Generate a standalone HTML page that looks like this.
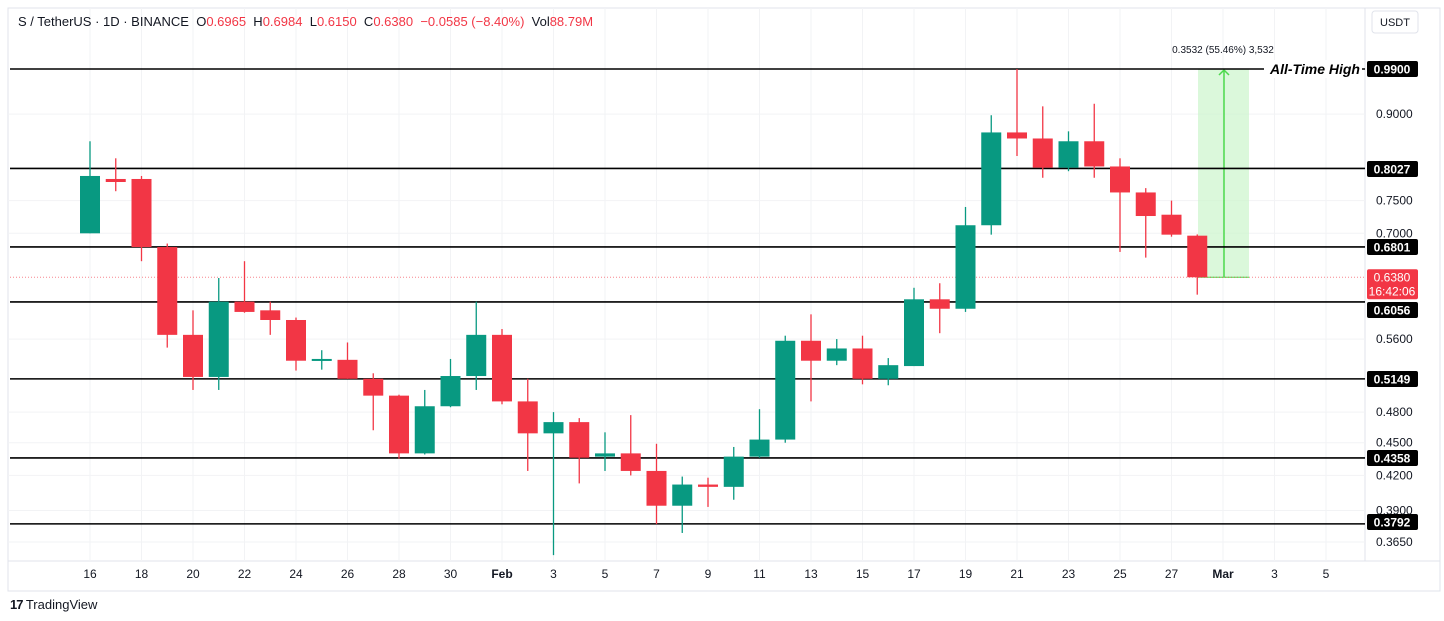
<!DOCTYPE html>
<html><head><meta charset="utf-8">
<style>
body{margin:0;background:#fff;font-family:"Liberation Sans",sans-serif;}
#wrap{position:relative;width:1444px;height:621px;overflow:hidden;}
svg text{font-family:"Liberation Sans",sans-serif;}
</style></head><body>
<div id="wrap">
<svg id="chart" width="1444" height="621"></svg>
</div>
<script>
const dayLabels=["16","18","20","22","24","26","28","30","Feb","3","5","7","9","11","13","15","17","19","21","23","25","27","Mar","3","5"];
const opens =[0.70,0.785,0.785,0.68,0.565,0.517,0.606,0.595,0.583,0.536,0.536,0.515,0.497,0.44,0.486,0.518,0.565,0.491,0.459,0.47,0.437,0.44,0.424,0.394,0.412,0.41,0.437,0.453,0.558,0.535,0.549,0.515,0.529,0.609,0.597,0.712,0.866,0.855,0.804,0.85,0.806,0.763,0.728,0.6965];
const highs =[0.85,0.82,0.79,0.685,0.595,0.637,0.66,0.606,0.586,0.547,0.556,0.521,0.498,0.503,0.537,0.606,0.572,0.515,0.48,0.474,0.46,0.477,0.449,0.419,0.418,0.446,0.483,0.564,0.59,0.56,0.564,0.538,0.624,0.63,0.74,0.898,0.99,0.915,0.868,0.92,0.82,0.77,0.75,0.6984];
const lows  =[0.70,0.765,0.66,0.55,0.503,0.503,0.592,0.565,0.524,0.525,0.515,0.462,0.435,0.439,0.485,0.503,0.488,0.424,0.355,0.413,0.424,0.42,0.379,0.372,0.393,0.399,0.436,0.45,0.491,0.53,0.509,0.508,0.529,0.567,0.593,0.698,0.824,0.787,0.798,0.787,0.673,0.665,0.695,0.615];
const closes=[0.79,0.78,0.68,0.565,0.517,0.606,0.593,0.583,0.535,0.537,0.515,0.497,0.44,0.486,0.518,0.565,0.491,0.459,0.47,0.436,0.44,0.424,0.394,0.412,0.41,0.437,0.453,0.558,0.535,0.549,0.515,0.53,0.609,0.597,0.712,0.866,0.855,0.804,0.85,0.806,0.763,0.726,0.698,0.638];
const levels=[0.99,0.8027,0.6801,0.6056,0.5149,0.4358,0.3792];
const levelLabelY=[69,169,247,310,379,458,522];
const tickVals=[0.90,0.75,0.70,0.56,0.48,0.45,0.42,0.39,0.365];
const lastPrice=0.638;

const svg=document.getElementById('chart');
const NS='http://www.w3.org/2000/svg';
function y(p){return 69+474*(Math.log(0.99)-Math.log(p));}
function x(i){return 90+25.75*i;}
function mk(tag,attrs,parent){const e=document.createElementNS(NS,tag);for(const k in attrs)e.setAttribute(k,attrs[k]);(parent||svg).appendChild(e);return e;}

let fr=mk('rect',{x:8,y:8,width:1432,height:583,fill:'none',stroke:'#e0e3eb'});


let ax=mk('line',{x1:1365,y1:8,x2:1365,y2:561,stroke:'#e0e3eb'});


let bx=mk('line',{x1:8,y1:561,x2:1440,y2:561,stroke:'#e0e3eb'});



dayLabels.forEach((l,k)=>{
  const xx=x(k*2);
  const g=mk('line',{x1:xx,y1:8,x2:xx,y2:561,stroke:'#f2f3f5'});
  
  
  const t=mk('text',{x:xx,y:578,'text-anchor':'middle','font-size':12,fill:'#131722','font-weight':(l==='Feb'||l==='Mar')?'bold':'normal'});
  t.textContent=l;
  
  
});
tickVals.forEach(v=>{
  const g=mk('line',{x1:8,y1:y(v),x2:1365,y2:y(v),stroke:'#f2f3f5'});
  
  
  const t=mk('text',{x:1376,y:y(v)+4,'font-size':12,fill:'#131722'});
  t.textContent=v.toFixed(4);
  
  
});

const mTop=y(0.99),mBot=y(lastPrice);
let mb=mk('rect',{x:1198,y:mTop,width:51,height:mBot-mTop,fill:'#ccf5cc',opacity:0.7});


let ml=mk('line',{x1:1224,y1:mBot,x2:1224,y2:mTop+1,stroke:'#4cd94c','stroke-width':1.5});


let mh=mk('polyline',{points:`1219,${mTop+6} 1224,${mTop+1} 1229,${mTop+6}`,fill:'none',stroke:'#4cd94c','stroke-width':1.5});


let mbl=mk('line',{x1:1198,y1:mBot,x2:1249,y2:mBot,stroke:'#4cd94c'});


let mt=mk('text',{x:1223,y:53,'text-anchor':'middle','font-size':10,fill:'#131722'});
mt.textContent='0.3532 (55.46%) 3,532';



levels.forEach((v,i)=>{
  const l=mk('line',{x1:10,y1:y(v),x2:1365,y2:y(v),stroke:'#000','stroke-width':1.6});
  
  
});
let cp=mk('line',{x1:10,y1:y(lastPrice),x2:1365,y2:y(lastPrice),stroke:'#f23645','stroke-width':1,'stroke-dasharray':'1 2',opacity:0.6});



opens.forEach((o,i)=>{
  const c=closes[i],up=c>=o,col=up?'#089981':'#f23645';
  const cx=x(i);
  const w=mk('line',{x1:cx,y1:y(highs[i]),x2:cx,y2:y(lows[i]),stroke:col,'stroke-width':1.3});
  
  
  const t=Math.min(y(o),y(c)),h=Math.max(2,Math.abs(y(o)-y(c)));
  const b=mk('rect',{x:cx-10,y:t,width:20,height:h,fill:col});
  
  
});

let ab=mk('rect',{x:1264,y:60,width:98,height:18,fill:'#fff'});


let at=mk('text',{x:1270,y:74,'font-size':14,'font-weight':'bold','font-style':'italic',fill:'#000'});
at.textContent='All-Time High';



levels.forEach((v,i)=>{
  const yy=levelLabelY[i];
  const r=mk('rect',{x:1367,y:yy-8,width:51,height:16,rx:2,fill:'#000'});
  
  
  const t=mk('text',{x:1392,y:yy+4.5,'text-anchor':'middle','font-size':12,'font-weight':'bold',fill:'#fff'});
  t.textContent=v.toFixed(4);
  
  
});
let cr=mk('rect',{x:1367,y:y(lastPrice)-8,width:51,height:30,rx:2,fill:'#f23645'});


let ct=mk('text',{x:1392,y:y(lastPrice)+4,'text-anchor':'middle','font-size':12,fill:'#fff'});
ct.textContent=lastPrice.toFixed(4);


let cd=mk('text',{x:1392,y:y(lastPrice)+18,'text-anchor':'middle','font-size':12,fill:'#fff'});
cd.textContent='16:42:06';



let ub=mk('rect',{x:1372,y:11,width:46,height:22,rx:3,fill:'#fff',stroke:'#e0e3eb'});


let ut=mk('text',{x:1395,y:26,'text-anchor':'middle','font-size':11,fill:'#131722'});
ut.textContent='USDT';


</script>
<div style="position:absolute;left:18px;top:14px;font-size:13px;color:#131722;white-space:nowrap;">S / TetherUS · 1D · BINANCE&nbsp;&nbsp;O<span style="color:#f23645">0.6965</span>&nbsp;&nbsp;H<span style="color:#f23645">0.6984</span>&nbsp;&nbsp;L<span style="color:#f23645">0.6150</span>&nbsp;&nbsp;C<span style="color:#f23645">0.6380</span>&nbsp;&nbsp;<span style="color:#f23645">−0.0585 (−8.40%)</span>&nbsp;&nbsp;Vol<span style="color:#f23645">88.79M</span></div>
<div style="position:absolute;left:10px;top:597px;font-size:13px;color:#131722;white-space:nowrap;"><b style="font-size:13px;letter-spacing:-1px">17</b> TradingView</div>
</body></html>
